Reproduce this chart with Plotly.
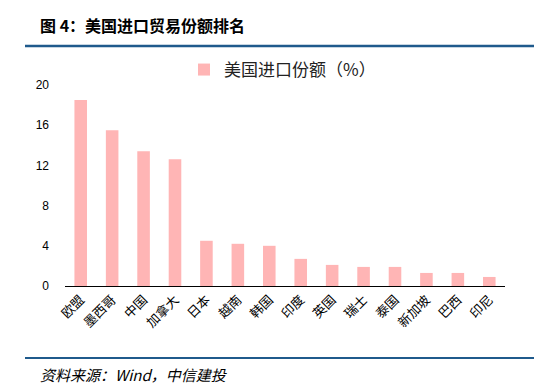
import plotly.graph_objects as go

categories = ["欧盟", "墨西哥", "中国", "加拿大", "日本", "越南", "韩国", "印度",
              "英国", "瑞士", "泰国", "新加坡", "巴西", "印尼"]
values = [18.5, 15.5, 13.4, 12.6, 4.5, 4.2, 4.0, 2.7, 2.1, 1.9, 1.9, 1.3, 1.3, 0.9]
y_ticks = [0, 4, 8, 12, 16, 20]

CJK = "Noto Sans CJK SC"

fig = go.Figure()
fig.add_trace(go.Bar(
    x=categories, y=values, name="美国进口份额（%）",
    marker=dict(color="#FFB5B5", line=dict(width=0)),
))

L, R, T, B = 57, 45, 77, 106
W, H = 542, 384
pw, ph = W - L - R, H - T - B

def px(x):
    return (x - L) / pw

def py(y):
    return (H - B - y) / ph

fig.update_layout(
    width=W, height=H,
    margin=dict(l=L, r=R, t=T, b=B, autoexpand=False),
    paper_bgcolor="white", plot_bgcolor="white",
    bargap=0.6,
    font=dict(family=CJK, color="#000000"),
    showlegend=True,
    legend=dict(orientation="h", x=px(176), xanchor="left", y=py(62), yanchor="middle",
                font=dict(size=17, family=CJK, color="#222"), itemwidth=30),
    xaxis=dict(showline=True, linecolor="black", linewidth=1, ticks="", tickangle=-45,
               tickfont=dict(size=13, family=CJK), showgrid=False, automargin=False),
    yaxis=dict(range=[0, 20], tickvals=y_ticks, showgrid=False, zeroline=False,
               showline=False, ticks="", tickfont=dict(size=12, family="Liberation Sans"),
               ticklabelstandoff=15, automargin=False),
)

fig.add_annotation(xref="paper", yref="paper", x=px(30), y=py(17), xanchor="left",
                   yanchor="middle", showarrow=False,
                   text="<b>图 4：美国进口贸易份额排名</b>",
                   font=dict(size=16, family=CJK, color="#000"))
fig.add_shape(type="line", xref="paper", yref="paper", x0=px(17), x1=px(542),
              y0=py(38), y1=py(38), line=dict(color="#1F5A8C", width=2.5))
fig.add_shape(type="line", xref="paper", yref="paper", x0=px(17), x1=px(542),
              y0=py(350), y1=py(350), line=dict(color="#1F5A8C", width=2))
fig.add_annotation(xref="paper", yref="paper", x=px(30), y=py(366), xanchor="left",
                   yanchor="middle", showarrow=False,
                   text="<i>资料来源：Wind，中信建投</i>",
                   font=dict(size=15, family=CJK, color="#000"))

fig.write_html("out.html")
